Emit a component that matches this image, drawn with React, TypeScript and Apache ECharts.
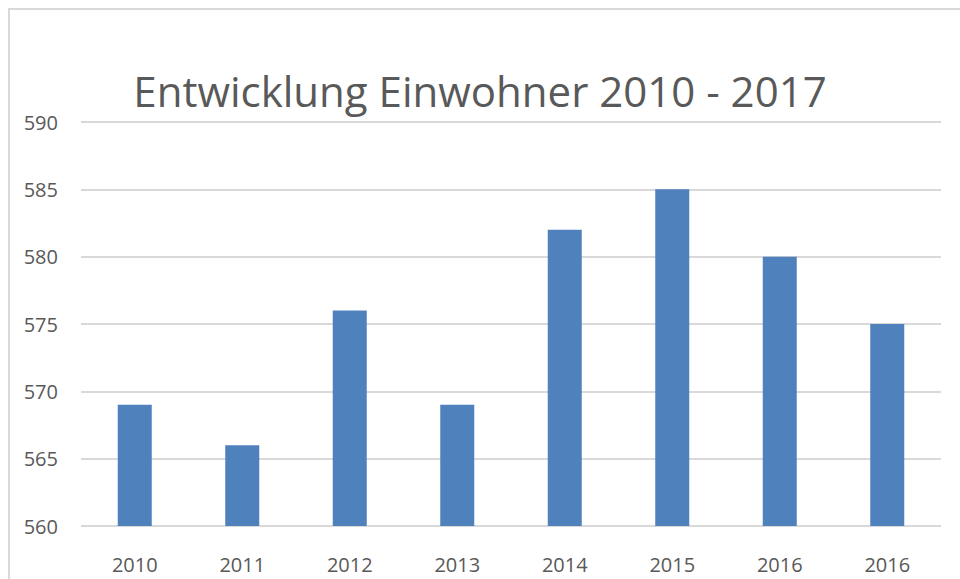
import React, { useEffect, useRef } from "react";
import * as echarts from "echarts";

const titleText = "Entwicklung Einwohner 2010 - 2017";
const categories = ["2010", "2011", "2012", "2013", "2014", "2015", "2016", "2016"];
const values = [569, 566, 576, 569, 582, 585, 580, 575];
const yMin = 560;
const yMax = 590;
const yInterval = 5;

const FONT = "'Open Sans', 'Liberation Sans', sans-serif";

export default function App() {
  const ref = useRef<HTMLDivElement>(null);
  useEffect(() => {
    document.body.style.margin = "0";
    const chart = echarts.init(ref.current!, null, { renderer: "svg" });
    chart.setOption({
      animation: false,
      backgroundColor: "#ffffff",
      title: {
        text: titleText,
        left: "center",
        top: 64,
        textStyle: { fontSize: 42, fontWeight: "normal", color: "#595959", fontFamily: FONT },
      },
      graphic: [
        {
          type: "rect",
          shape: { x: 9, y: 9, width: 1000, height: 700 },
          style: { fill: "none", stroke: "#d9d9d9", lineWidth: 2 },
          silent: true,
        },
      ],
      grid: { left: 81, right: 19, top: 122, bottom: 53 },
      xAxis: {
        type: "category",
        data: categories,
        axisLine: { show: false },
        axisTick: { show: false },
        axisLabel: { fontSize: 20, color: "#595959", fontFamily: FONT, margin: 28, interval: 0 },
      },
      yAxis: {
        type: "value",
        min: yMin,
        max: yMax,
        interval: yInterval,
        axisLine: { show: false },
        axisTick: { show: false },
        axisLabel: { fontSize: 20, color: "#595959", fontFamily: FONT, margin: 23 },
        splitLine: { lineStyle: { color: "#d9d9d9", width: 2 } },
      },
      series: [
        {
          type: "bar",
          data: values,
          barWidth: 34,
          itemStyle: { color: "#4f81bd" },
        },
      ],
    });
    return () => chart.dispose();
  }, []);
  return <div ref={ref} style={{ position: "fixed", left: 0, top: 0, width: 960, height: 579 }} />;
}
